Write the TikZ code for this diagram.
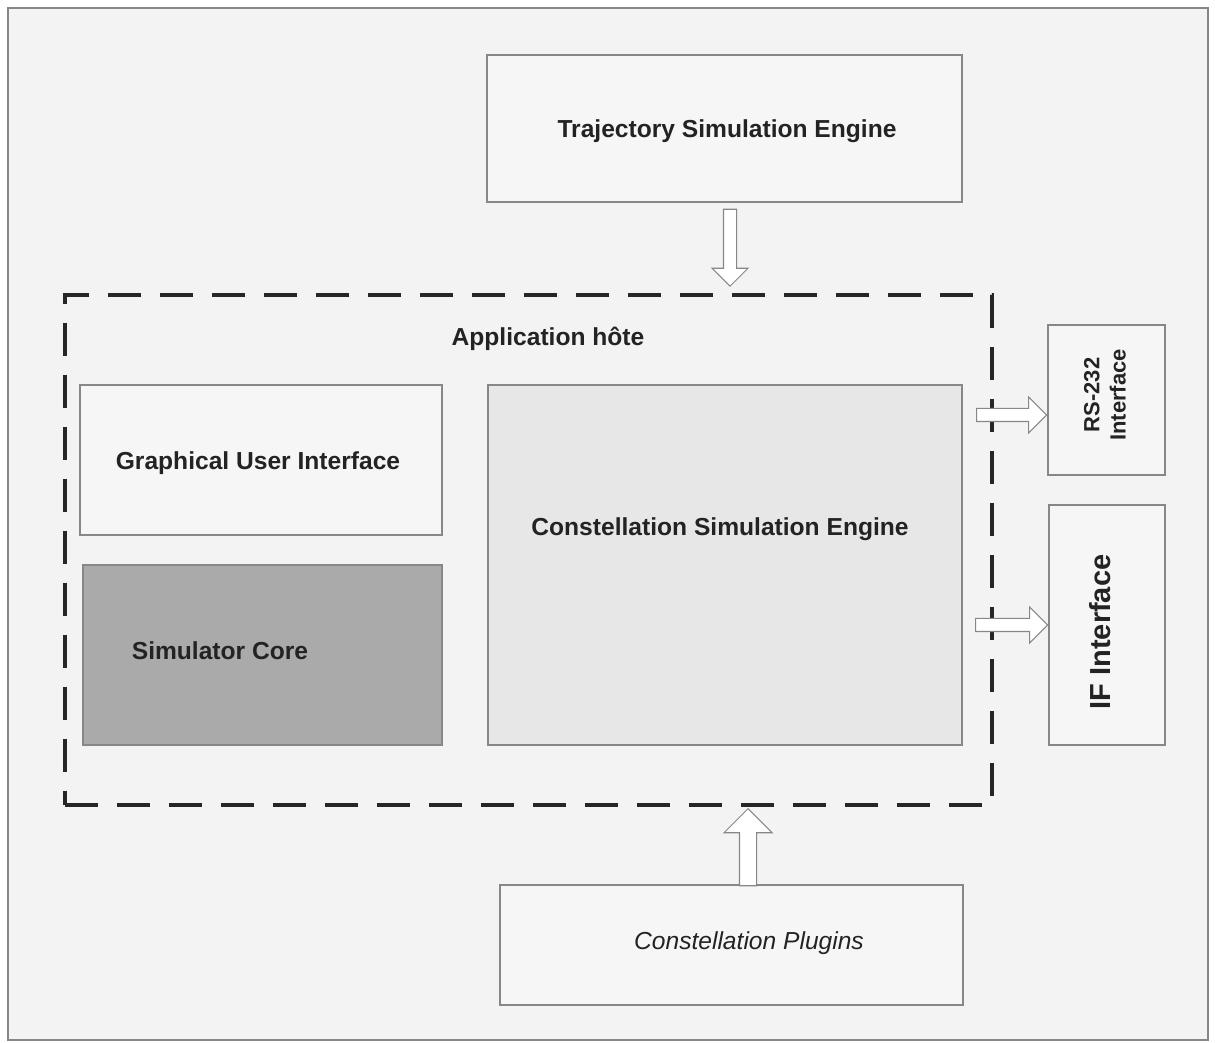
\documentclass[tikz,border=0pt]{standalone}
\usepackage{fontspec}
\setmainfont{Liberation Sans}
\usepackage{xcolor}
\usetikzlibrary{shapes.arrows,positioning}
\definecolor{framegray}{RGB}{243,243,243}
\definecolor{boxgray}{RGB}{246,246,246}
\definecolor{coregray}{RGB}{170,170,170}
\definecolor{enginegray}{RGB}{231,231,231}
\definecolor{linegray}{RGB}{135,135,135}
\definecolor{textgray}{RGB}{35,35,35}

\tikzset{
  block/.style={draw=linegray, fill=boxgray, line width=0.8pt, inner sep=0pt},
  blocktext/.style={font=\fontsize{14}{17}\selectfont\bfseries, text=textgray},
  hollowarrow/.style={single arrow, draw=linegray, fill=white, line width=0.6pt,
    inner xsep=0pt, inner ysep=0.12cm, single arrow head extend=0.23cm,
    minimum width=0pt, anchor=tip}
}

\begin{document}
\begin{tikzpicture}[x=0.02cm, y=-0.02cm]
    \fill[white] (0,0) rectangle (1215,1043);
    \useasboundingbox (0,0) rectangle (1215,1043);
    \draw[draw=linegray, fill=framegray, line width=1pt] (8,8) rectangle (1208,1040);

    % engine on top
    \node[block, minimum width=9.5cm, minimum height=2.94cm] (traj) at (724.5,128.5) {};
    \node[blocktext] (trajLabel) at (727,131) {Trajectory Simulation Engine};

    % host application
    \node[draw=black!85, line width=2.2pt, dash pattern=on 0.66cm off 0.38cm,
      minimum width=18.54cm, minimum height=10.2cm, inner sep=0pt] (app) at (528.5,550) {};
    \node[blocktext] (appLabel) at (548,339) {Application hôte};

    \node[block, minimum width=7.24cm, minimum height=3.0cm] (gui) at (261,460) {};
    \node[blocktext] (guiLabel) at (258,463) {Graphical User Interface};
    \node[block, fill=coregray, minimum width=7.18cm, minimum height=3.6cm] (core) at (262.5,655) {};
    \node[blocktext] (coreLabel) at (220,651) {Simulator Core};
    \node[block, fill=enginegray, minimum width=9.48cm, minimum height=7.2cm] (cse) at (725,565) {};
    \node[blocktext] (cseLabel) at (720,529) {Constellation Simulation Engine};

    % interfaces
    \node[block, minimum width=2.34cm, minimum height=3.0cm] (rs) at (1106.5,400) {};
    \node[rotate=90, align=center, font=\fontsize{12.5}{15}\selectfont\bfseries,
      text=textgray] (rsLabel) at (1105,395) {RS-232\\Interface};
    \node[block, minimum width=2.32cm, minimum height=4.8cm] (ifc) at (1107,625) {};
    \node[rotate=90, font=\fontsize{16.5}{19}\selectfont\bfseries,
      text=textgray] (ifcLabel) at (1100,632) {IF Interface};

    % plugins
    \node[block, minimum width=9.26cm, minimum height=2.4cm] (plug) at (731.5,945) {};
    \node[text=textgray, font=\fontsize{14}{17}\selectfont\itshape] (plugLabel) at (749,943) {Constellation Plugins};

    % hollow arrows
    \node[hollowarrow, rotate=270, minimum height=1.54cm] (trajArrow) at (730,287) {};
    \node[hollowarrow, minimum height=1.4cm] (rsArrow) at (rs.west |- 0,415) {};
    \node[hollowarrow, minimum height=1.44cm] (ifcArrow) at (ifc.west |- 0,625) {};
    \node[hollowarrow, rotate=90, minimum height=1.54cm,
      inner ysep=0.16cm, single arrow head extend=0.31cm] (plugArrow) at (748,808) {};
\end{tikzpicture}
\end{document}
